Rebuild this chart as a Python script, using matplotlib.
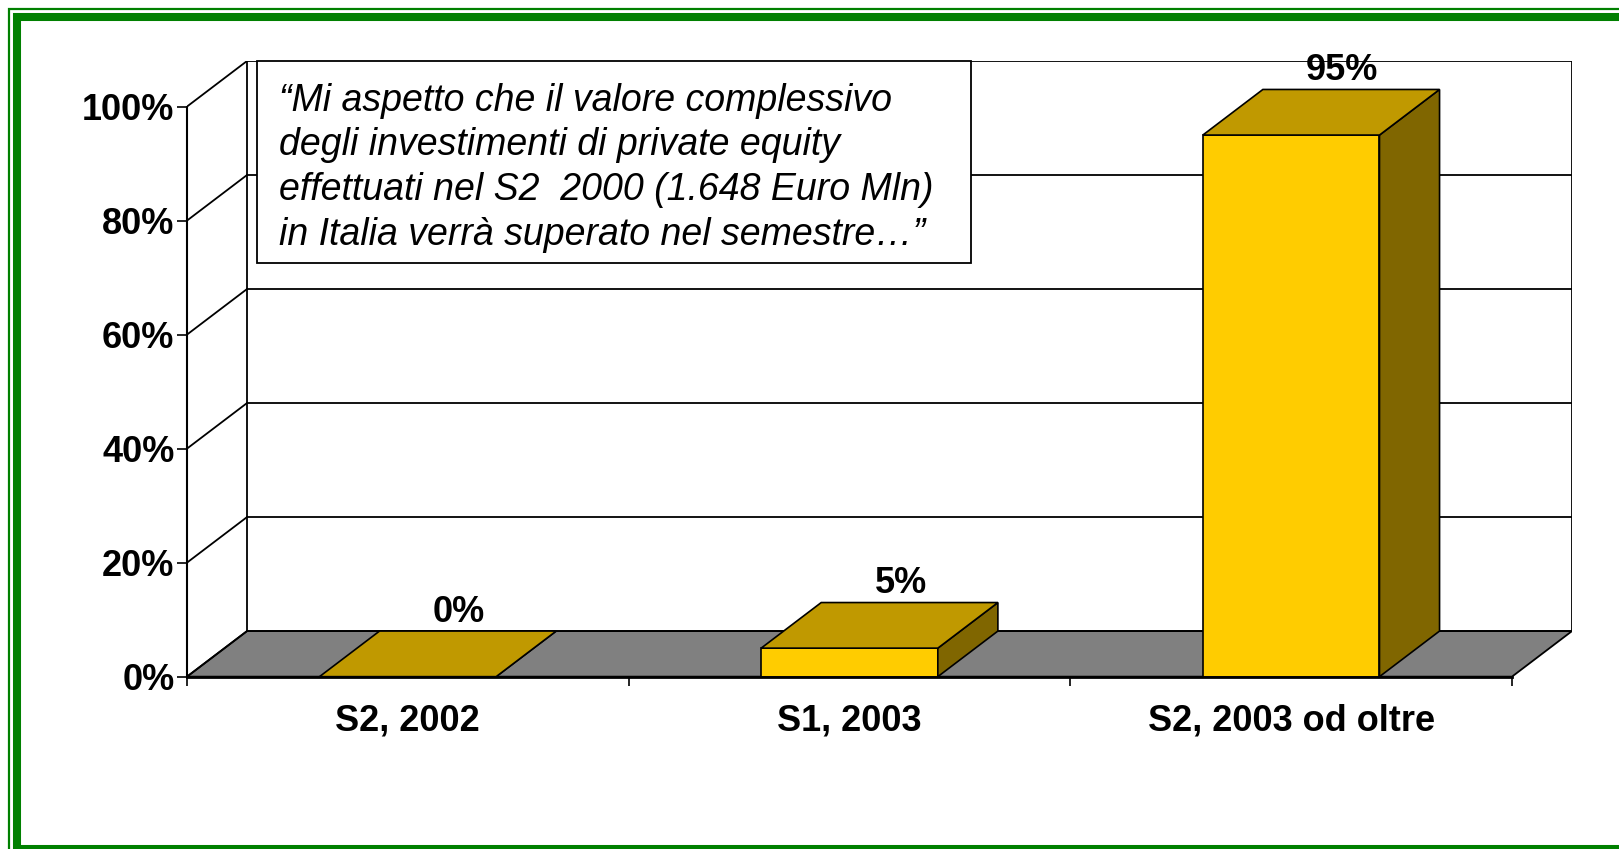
import matplotlib

matplotlib.use("Agg")
import matplotlib.pyplot as plt
from matplotlib.patches import Polygon, Rectangle

# chart data
categories = ["S2, 2002", "S1, 2003", "S2, 2003 od oltre"]
values = [0, 5, 95]
value_labels = ["0%", "5%", "95%"]
y_ticks = [0, 20, 40, 60, 80, 100]
y_tick_labels = ["0%", "20%", "40%", "60%", "80%", "100%"]
quote = ("\u201cMi aspetto che il valore complessivo\n"
         "degli investimenti di private equity\n"
         "effettuati nel S2  2000 (1.648 Euro Mln)\n"
         "in Italia verr\u00e0 superato nel semestre\u2026\u201d")

# look of the fake 3D columns
depth_x = 0.136   # depth offset in category units
depth_y = 8.0     # depth offset in percent units
bar_width = 0.40
front_color = "#FFCC00"
top_color = "#C09900"
side_color = "#806600"
floor_color = "#808080"
green = "#008000"

plt.rcParams["font.family"] = ["Liberation Sans", "DejaVu Sans"]

fig = plt.figure(figsize=(16.19, 8.49), dpi=100)
ax = fig.add_axes([0.1155, 0.2030, 0.8555, 0.7252])
n = len(categories)
ax.set_xlim(0, n + depth_x)
ax.set_ylim(0, 100 + depth_y)

# floor
ax.add_patch(Polygon([(0, 0), (n, 0), (n + depth_x, depth_y), (depth_x, depth_y)],
                     closed=True, facecolor=floor_color, edgecolor="black", lw=1.3, zorder=1))
# side wall + back wall grid
for v in y_ticks:
    ax.plot([0, depth_x], [v, v + depth_y], color="black", lw=1.3, zorder=1)
    ax.plot([depth_x, n + depth_x], [v + depth_y, v + depth_y], color="black", lw=1.3, zorder=1)
ax.plot([depth_x, depth_x], [depth_y, 100 + depth_y], color="black", lw=1.3, zorder=1)
ax.plot([n + depth_x, n + depth_x], [depth_y, 100 + depth_y], color="black", lw=1.3, zorder=1)

# columns
for i, (v, lab) in enumerate(zip(values, value_labels)):
    x0 = i + 0.5 - bar_width / 2
    x1 = i + 0.5 + bar_width / 2
    ax.add_patch(Polygon([(x0, 0), (x1, 0), (x1, v), (x0, v)], closed=True,
                         facecolor=front_color, edgecolor="black", lw=1.2, zorder=3))
    ax.add_patch(Polygon([(x1, 0), (x1 + depth_x, depth_y), (x1 + depth_x, v + depth_y), (x1, v)],
                         closed=True, facecolor=side_color, edgecolor="black", lw=1.2, zorder=3))
    ax.add_patch(Polygon([(x0, v), (x1, v), (x1 + depth_x, v + depth_y), (x0 + depth_x, v + depth_y)],
                         closed=True, facecolor=top_color, edgecolor="black", lw=1.2, zorder=3))
    ax.text(i + 0.5 + depth_x * 0.85, v + depth_y + 3.3, lab, ha="center", va="center",
            fontsize=26, fontweight="bold", zorder=4)

# axes lines and ticks
for side in ["top", "right"]:
    ax.spines[side].set_visible(False)
ax.spines["left"].set_bounds(0, 100)
ax.spines["bottom"].set_bounds(0, n)
ax.spines["left"].set_linewidth(1.5)
ax.spines["bottom"].set_linewidth(2.0)
ax.spines["left"].set_zorder(5)
ax.spines["bottom"].set_zorder(5)
ax.set_yticks(y_ticks)
ax.set_yticklabels(y_tick_labels, fontsize=26, fontweight="bold")
ax.tick_params(axis="y", direction="out", length=7, width=1.2, pad=2)
ax.set_xticks(range(n + 1))
ax.set_xticklabels([""] * (n + 1))
ax.tick_params(axis="x", which="major", direction="out", length=6.5, width=1.2)
ax.set_xticks([i + 0.5 for i in range(n)], minor=True)
ax.set_xticklabels(categories, minor=True, fontsize=26, fontweight="bold")
ax.tick_params(axis="x", which="minor", length=0, pad=19)
ax.patch.set_visible(False)

# quote box
ax.add_patch(Rectangle((0.0505, 0.672), 0.5152, 0.328, transform=ax.transAxes,
                       facecolor="white", edgecolor="black", lw=1.3, zorder=6, clip_on=False))
ax.text(0.0664, 0.8266, quote, transform=ax.transAxes, ha="left", va="center",
        fontsize=27, fontstyle="italic", linespacing=1.31, zorder=7)

# green frame (runs off the right and bottom edges)
fig.patches.append(Rectangle((9 / 1619, -0.1), 1.2, 1 - 9 / 849 + 0.1, transform=fig.transFigure,
                             fill=False, edgecolor=green, lw=1.6))
fig.patches.append(Rectangle((17 / 1619, 0.0), 1.2, 1 - 17 / 849, transform=fig.transFigure,
                             fill=False, edgecolor=green, lw=5.8))

fig.savefig("out.png", dpi=100)
